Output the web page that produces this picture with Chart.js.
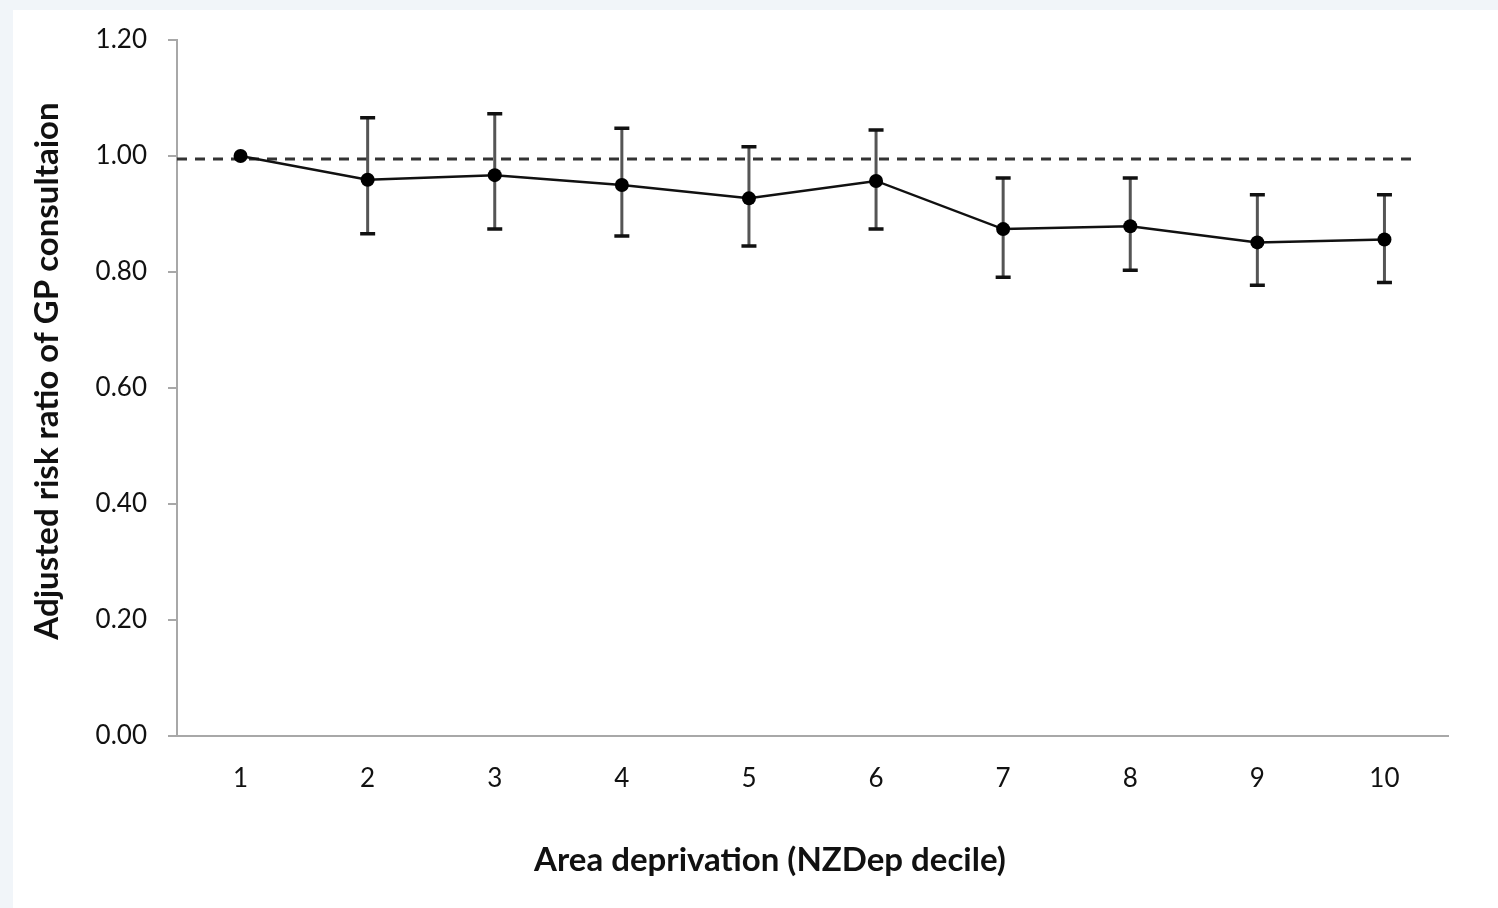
<!DOCTYPE html>
<html>
<head>
<meta charset="utf-8">
<title>Adjusted risk ratio of GP consultation by NZDep decile</title>
<script src="https://cdn.jsdelivr.net/npm/chart.js@4.4.1/dist/chart.umd.min.js"></script>
<style>
  body { margin: 0; background: #f1f5f9; }
  #panel { position: absolute; left: 13px; top: 10px; right: 0; bottom: 0; background: #fff; }
  #rrChart { position: absolute; left: 0; top: 0; }
</style>
</head>
<body>
<div id="panel"></div>
<canvas id="rrChart" width="1498" height="908"></canvas>
<script>
// Data
var deciles = ["1", "2", "3", "4", "5", "6", "7", "8", "9", "10"];
var riskRatio = [1.000, 0.959, 0.967, 0.950, 0.927, 0.957, 0.874, 0.879, 0.851, 0.856];
var ciLow  = [null, 0.866, 0.874, 0.862, 0.845, 0.874, 0.791, 0.803, 0.777, 0.782];
var ciHigh = [null, 1.066, 1.073, 1.048, 1.016, 1.045, 0.962, 0.962, 0.933, 0.933];
var refLine = 0.995;

var xTitle = "Area deprivation (NZDep decile)";
var yTitle = "Adjusted risk ratio of GP consultaion";

var FONT = "Lato, 'Open Sans', sans-serif";

// error bars + dashed reference line + axis titles
var extras = {
  id: "extras",
  beforeDatasetsDraw: function (chart) {
    var c = chart.ctx, xs = chart.scales.x, ys = chart.scales.y, a = chart.chartArea;
    c.save();
    // dashed line at RR = 1
    var yr = ys.getPixelForValue(refLine);
    c.strokeStyle = "#333";
    c.lineWidth = 3;
    c.setLineDash([10, 8]);
    c.beginPath();
    c.moveTo(a.left, yr);
    c.lineTo(xs.getPixelForValue(deciles.length - 1) + 28, yr);
    c.stroke();
    c.setLineDash([]);

    for (var i = 0; i < deciles.length; i++) {
      if (ciLow[i] == null) continue;
      var x = xs.getPixelForValue(i);
      var y1 = ys.getPixelForValue(ciHigh[i]);
      var y2 = ys.getPixelForValue(ciLow[i]);
      c.strokeStyle = "#555";
      c.lineWidth = 3;
      c.beginPath(); c.moveTo(x, y1); c.lineTo(x, y2); c.stroke();
      c.strokeStyle = "#111";
      c.lineWidth = 3.5;
      c.beginPath();
      c.moveTo(x - 7.5, y1); c.lineTo(x + 7.5, y1);
      c.moveTo(x - 7.5, y2); c.lineTo(x + 7.5, y2);
      c.stroke();
    }
    c.restore();
  },
  afterDraw: function (chart) {
    var c = chart.ctx;
    c.save();
    c.fillStyle = "#111";
    c.font = "bold 33px " + FONT;
    c.textAlign = "center";
    c.textBaseline = "middle";
    c.fillText(xTitle, 770, 860);
    c.translate(47, 371);
    c.rotate(-Math.PI / 2);
    c.fillText(yTitle, 0, 0);
    c.restore();
  }
};

var ctx = document.getElementById("rrChart").getContext("2d");
var rrChart = new Chart(ctx, {
  type: "line",
  data: {
    labels: deciles,
    datasets: [{
      label: "Adjusted risk ratio",
      data: riskRatio,
      fill: false,
      borderColor: "#111",
      borderWidth: 2.5,
      pointRadius: 7,
      pointBackgroundColor: "#000",
      pointBorderWidth: 0,
      tension: 0
    }]
  },
  options: {
    responsive: false,
    animation: false,
    layout: { padding: { top: 40, right: 50, left: 0, bottom: 0 } },
    plugins: {
      legend: { display: false },
      tooltip: { enabled: false }
    },
    scales: {
      x: {
        offset: true,
        grid: { display: false },
        border: { color: "#a8a8a8", width: 2 },
        ticks: { color: "#111", padding: 19, font: { family: FONT, size: 26 } },
        afterFit: function (s) { s.height = 172; }
      },
      y: {
        min: 0,
        max: 1.2,
        grid: { drawOnChartArea: false, tickLength: 9, color: "#a8a8a8", lineWidth: 2 },
        border: { color: "#a8a8a8", width: 2 },
        ticks: {
          stepSize: 0.2,
          color: "#111",
          padding: 21,
          font: { family: FONT, size: 26 },
          callback: function (v) { return v.toFixed(2); }
        },
        afterFit: function (s) { s.width = 177; }
      }
    }
  },
  plugins: [extras]
});
</script>
</body>
</html>
